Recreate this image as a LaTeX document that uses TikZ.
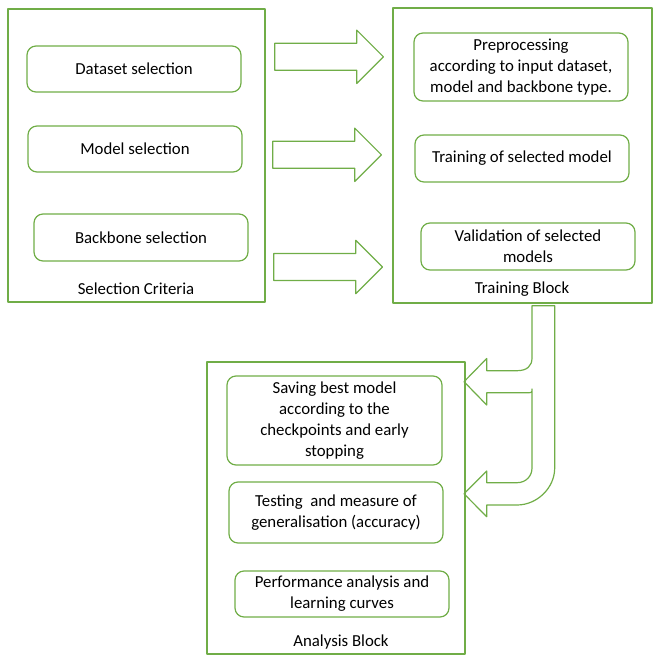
\documentclass[tikz,border=0pt]{standalone}
\usepackage{fontspec}
\setmainfont{Carlito}
\definecolor{officegreen}{HTML}{70AD47}
\begin{document}
\begin{tikzpicture}[x=1pt, y=-1pt, line width=1.2pt, line join=round,
    every node/.style={font=\fontsize{16.8}{20.8}\selectfont, text=black},
    frame/.style={draw=officegreen, minimum width=#1},
    task/.style={draw=officegreen, rounded corners=9pt, minimum width=214, align=center}]
  \useasboundingbox (0,0) rectangle (664,663);
  % los tres bloques
  \node[frame=257, minimum height=293] (sel) at (136.5,155.5) {};
  \node[frame=259, minimum height=295] (train) at (522.5,155.5) {};
  \node[frame=258, minimum height=292] (ana) at (336,508) {};
  \node (sellabel) at (136,289) {Selection Criteria};
  \node (trainlabel) at (522,289) {Training Block};
  \node (analabel) at (341,642) {Analysis Block};
  % las cajas de seleccion
  \node[task, minimum height=46] (dataset) at (134,69) {Dataset selection};
  \node[task, minimum height=46] (model) at (135,149) {Model selection};
  \node[task, minimum height=47] (backbone) at (141,237.5) {Backbone selection};
  % las cajas de entrenamiento
  \node[task, minimum height=68] (prep) at (521,67)
    {Preprocessing\\according to input dataset,\\model and backbone type.};
  \node[task, minimum height=47] (training) at (522,158.5) {Training of selected model};
  \node[task, minimum height=47] (valid) at (528,246.5) {Validation of selected\\models};
  % las cajas de analisis
  \node[task, minimum width=215, minimum height=89] (saving) at (334.5,420.5)
    {Saving best model\\according to the\\checkpoints and early\\stopping};
  \node[task, minimum height=61] (testing) at (336,512.5)
    {Testing\ \ and measure of\\generalisation (accuracy)};
  \node[task, minimum height=46] (perf) at (342,594)
    {Performance analysis and\\learning curves};
  % las flechas gordas
  \foreach \x/\y in {274.7/56.8, 272.7/154.8, 273.7/267} {
    \draw[officegreen] (\x,\y-13.5) -- ++(82,0) -- ++(0,-13.2) -- ++(26.7,26.7)
      -- ++(-26.7,26.7) -- ++(0,-13.2) -- ++(-82,0) -- cycle;
  }
  % la flecha doblada
  \draw[officegreen] (532,305.7) -- (554.7,305.7) -- (554.7,468)
    .. controls (554.7,488) and (537,505) .. (517,505) -- (486.7,505)
    -- (486.7,516.7) -- (464,493.8) -- (486.7,471) -- (486.7,482.7) -- (517,482.7)
    .. controls (526,482.7) and (532,476) .. (532,468) -- (532,389)
    .. controls (532,392.7) .. (527,392.7) -- (486.7,392.7) -- (486.7,405)
    -- (464,381.7) -- (486.7,358.5) -- (486.7,370.7) -- (517,370.7)
    .. controls (527,370.7) and (532,366) .. (532,358) -- cycle;
\end{tikzpicture}
\end{document}
